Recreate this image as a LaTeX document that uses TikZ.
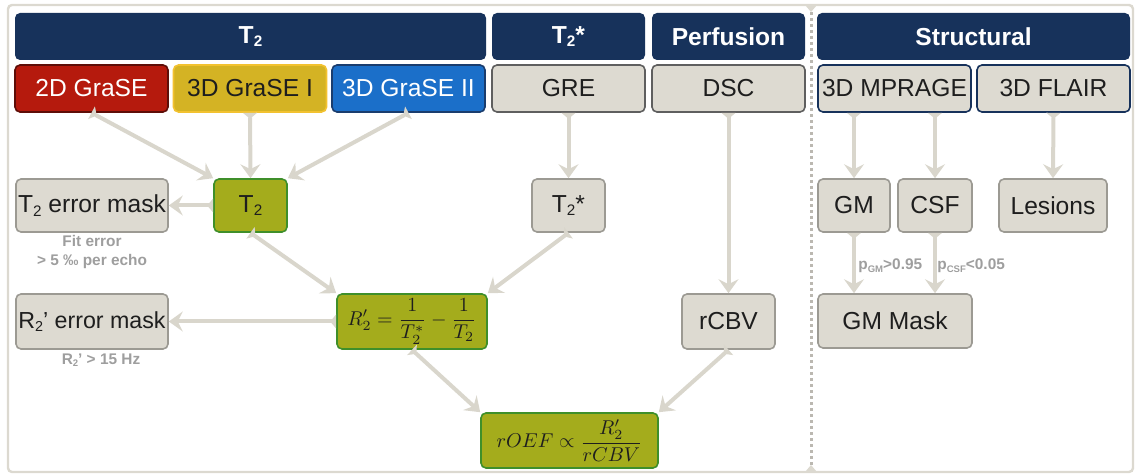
\documentclass[tikz,border=0pt]{standalone}
\usepackage{amsmath}
\usepackage[no-math]{fontspec}
\setmainfont{Liberation Sans}
\usepackage{graphicx}
\usepackage{tikz}
\usetikzlibrary{arrows.meta}
\definecolor{navy}{HTML}{17325B}
\definecolor{grasered}{HTML}{B51A0D}
\definecolor{graseredd}{HTML}{5E0E08}
\definecolor{graseyel}{HTML}{D4B324}
\definecolor{graseyeld}{HTML}{F2C230}
\definecolor{graseblue}{HTML}{1B6FC9}
\definecolor{graseblued}{HTML}{1A3D6E}
\definecolor{boxgray}{HTML}{DDDAD1}
\definecolor{darkline}{HTML}{5F5F5F}
\definecolor{lightline}{HTML}{9C9A93}
\definecolor{mapgreen}{HTML}{A4AC1C}
\definecolor{mapgreend}{HTML}{3F8F2A}
\definecolor{flowgray}{HTML}{D9D6CC}
\definecolor{notegray}{HTML}{9E9E9E}
\definecolor{framegray}{HTML}{DCD9D0}
\definecolor{textblack}{HTML}{1E1E1E}
\newcommand{\lowtxt}[1]{\raisebox{-0.3ex}{\scalebox{0.62}{#1}}}

\begin{document}
\begin{tikzpicture}[x=0.5pt,y=-0.5pt,
      box/.style={rounded corners=2.5pt,inner sep=0pt,align=center,line width=0.8pt,
        text=textblack,font=\fontsize{12.3}{14}\selectfont},
      hdr/.style={box,fill=navy,text=white,font=\fontsize{12.3}{14}\selectfont\bfseries,
        minimum height=23.5pt},
      seq/.style={box,minimum width=76.5pt,minimum height=23.5pt},
      res/.style={box,fill=boxgray,draw=lightline,minimum height=26.5pt},
      mapbox/.style={box,fill=mapgreen,draw=mapgreend,minimum height=26.5pt},
      eqn/.style={font=\fontsize{9.7}{11}\selectfont},
      note/.style={text=notegray,font=\fontsize{7.7}{9.5}\selectfont\bfseries,align=center,inner sep=0pt},
      flow/.style={draw=flowgray,line width=2pt,
        {Triangle[reversed,length=3pt,width=7pt]}-{Stealth[length=7pt,width=10pt,inset=2.5pt]}}]
    \useasboundingbox (0,0) rectangle (1135,475);
    \draw[framegray,line width=1.2pt,rounded corners=2pt] (8,5) rectangle (1133,472);
    \draw[framegray!85!black,line width=1.5pt,dash pattern=on 1.5pt off 1.5pt] (811,12) -- (811,466);
    \fill[framegray] (805,5) -- (817,5) -- (811,12) -- cycle;
    \fill[framegray] (805,472) -- (817,472) -- (811,465) -- cycle;

    \node[hdr,minimum width=235.5pt] (hT) at (250.5,36.5) {T\lowtxt{2}};
    \node[hdr,minimum width=76.5pt] (hTs) at (568.5,36.5) {T\lowtxt{2}*};
    \node[hdr,minimum width=76.5pt] (hPerf) at (728.5,36.5) {Perfusion};
    \node[hdr,minimum width=156.5pt] (hStruct) at (973.5,36.5) {Structural};

    \node[seq,fill=grasered,draw=graseredd,text=white] (grA) at (91.5,88.5) {2D GraSE};
    \node[seq,fill=graseyel,draw=graseyeld] (grB) at (250,88.5) {3D GraSE I};
    \node[seq,fill=graseblue,draw=graseblued,text=white] (grC) at (408.5,88.5) {3D GraSE II};
    \node[seq,fill=boxgray,draw=darkline] (gre) at (568.5,88.5) {GRE};
    \node[seq,fill=boxgray,draw=darkline] (dsc) at (728.5,88.5) {DSC};
    \node[seq,fill=boxgray,draw=navy] (mprage) at (894.5,88.5) {3D MPRAGE};
    \node[seq,fill=boxgray,draw=navy] (flair) at (1053.5,88.5) {3D FLAIR};

    \node[res,minimum width=76pt] (tmask) at (92,205.5) {T\lowtxt{2} error mask};
    \node[mapbox,minimum width=36.5pt] (t2) at (250.5,205.5) {T\lowtxt{2}};
    \node[res,minimum width=36.5pt] (t2s) at (568.5,205.5) {T\lowtxt{2}*};
    \node[res,minimum width=36pt] (gm) at (854,205.5) {GM};
    \node[res,minimum width=37pt] (csf) at (935,205.5) {CSF};
    \node[res,minimum width=54pt] (les) at (1053,205.5) {Lesions};

    \node[note] (fiterr) at (92,252) {Fit error\\> 5 ‰ per echo};
    \node[note,anchor=west] (pgm) at (858,266) {p\lowtxt{GM}>0.95};
    \node[note,anchor=west] (pcsf) at (937,266) {p\lowtxt{CSF}<0.05};

    \node[res,minimum width=76pt,minimum height=27.5pt,font=\fontsize{11.6}{14}\selectfont]
      (rmask) at (92,321.5) {R\lowtxt{2}’ error mask};
    \node[mapbox,eqn,minimum width=75pt,minimum height=27.5pt] (r2) at (412,321.5)
      {$R_2'=\dfrac{1}{T_2^*}-\dfrac{1}{T_2}$};
    \node[res,minimum width=46.5pt,minimum height=27.5pt] (rcbv) at (728.5,321.5) {rCBV};
    \node[res,minimum width=77pt,minimum height=27pt] (gmmask) at (895,321) {GM Mask};
    \node[note] (rlim) at (101,360) {R\lowtxt{2}’ > 15 Hz};

    \node[mapbox,eqn,minimum width=88.5pt,minimum height=27.5pt] (roef) at (569.5,440.5)
      {$rOEF\propto\dfrac{R_2'}{rCBV}$};

    \draw[flow] (grA.south) -- (t2.north west);
    \draw[flow] (grB.south) -- (t2.north);
    \draw[flow] (grC.south) -- (t2.north east);
    \draw[flow] (t2.west) -- (tmask.east);
    \draw[flow] (gre.south) -- (t2s.north);
    \draw[flow] (t2.south) -- (r2.north west);
    \draw[flow] (t2s.south) -- (r2.north east);
    \draw[flow] (r2.west) -- (rmask.east);
    \draw[flow] (dsc.south) -- (rcbv.north);
    \draw[flow] (r2.south) -- (roef.north west);
    \draw[flow] (rcbv.south) -- (roef.north east);
    \draw[flow] (gm.north |- mprage.south) -- (gm.north);
    \draw[flow] (csf.north |- mprage.south) -- (csf.north);
    \draw[flow] (flair.south) -- (les.north);
    \draw[flow] (gm.south) -- (gm.south |- gmmask.north);
    \draw[flow] (csf.south) -- (csf.south |- gmmask.north);
\end{tikzpicture}
\end{document}
